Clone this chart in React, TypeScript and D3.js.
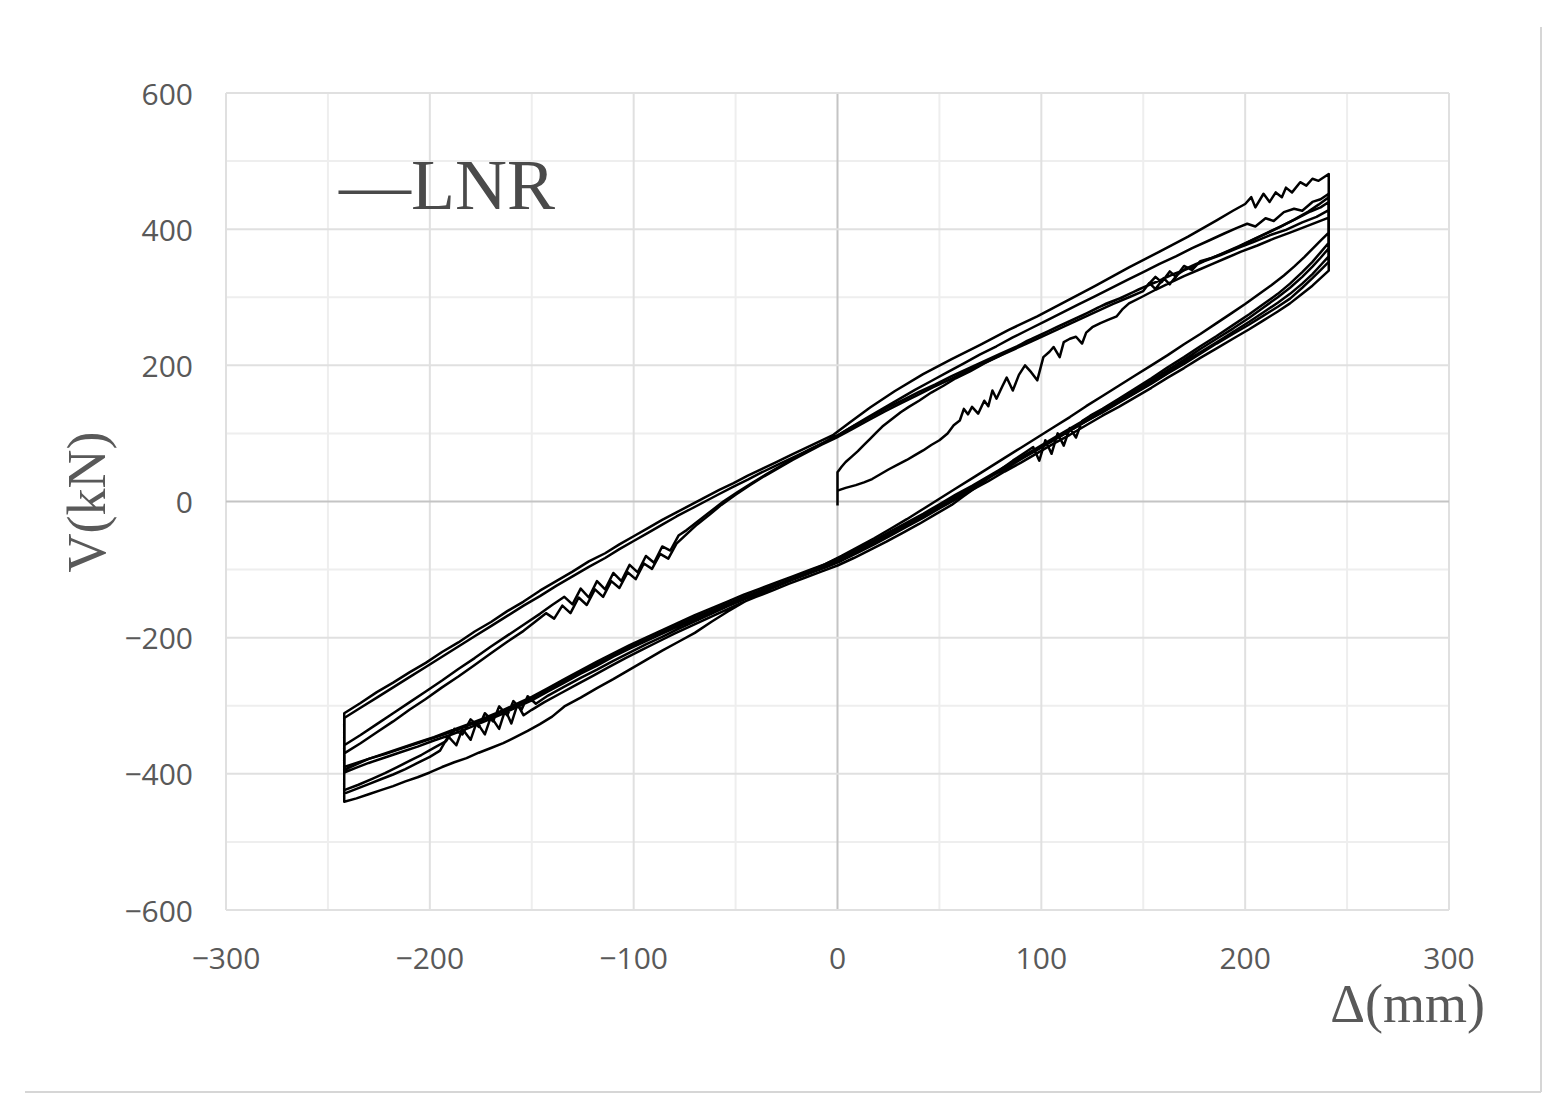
import { useEffect, useRef } from 'react';
import * as d3 from 'd3';

type Pt = [number, number];

const xTicks = [-300, -200, -100, 0, 100, 200, 300];
const yTicks = [-600, -400, -200, 0, 200, 400, 600];
const xMinor = [-250, -150, -50, 50, 150, 250];
const yMinor = [-500, -300, -100, 100, 300, 500];

// loading branches (Δ mm, V kN)
const upA: Pt[] = [[0,-6],[0,43],[2,51],[4,58],[7,66],[10,74],[13,83],[16,92],[19,101],[22,110],[25,117],[28,124],[31,131],[35,139],[40,148],[46,160],[52,170],[58,181],[65,191],[72,203],[79,213],[86,224],[93,236],[100,245],[108,257],[116,268],[124,279],[132,291],[140,300],[148,312],[156,322],[164,333],[172,342],[180,353],[188,362],[196,372],[204,381],[212,391],[220,399],[228,410],[235,418],[241,428]];

const upB: Pt[] = [[0,16],[4,20],[9,24],[13,28],[17,33],[21,40],[25,47],[30,55],[34,61],[38,68],[42,75],[46,83],[50,90],[54,100],[57,112],[60,119],[62,136],[64,128],[66,139],[69,129],[72,148],[74,140],[76,163],[78,151],[81,170],[83,182],[86,163],[89,186],[92,200],[95,190],[98,178],[101,212],[104,220],[106,227],[109,212],[111,234],[114,239],[117,242],[120,232],[122,248],[125,256],[129,262],[133,267],[137,272],[140,283],[143,291],[149,300],[156,311],[163,321],[170,331],[177,340],[184,349],[191,358],[198,367],[206,376],[214,386],[222,395],[229,403],[235,410],[241,417]];

const up1: Pt[] = [[-242,-311],[-234,-296],[-226,-280],[-218,-266],[-210,-251],[-202,-237],[-194,-221],[-186,-207],[-178,-191],[-170,-177],[-162,-161],[-154,-147],[-146,-131],[-138,-117],[-130,-103],[-122,-88],[-114,-76],[-107,-63],[-100,-51],[-93,-39],[-86,-27],[-79,-16],[-72,-5],[-65,6],[-58,17],[-51,27],[-44,38],[-37,48],[-30,58],[-23,68],[-16,78],[-9,88],[-2,98],[6,116],[16,138],[28,162],[42,187],[56,209],[70,230],[84,252],[98,272],[112,294],[126,316],[143,344],[158,367],[172,389],[186,413],[194,427],[200,437],[203,447],[205,432],[209,452],[212,440],[215,454],[218,447],[220,461],[223,454],[227,469],[230,464],[233,474],[236,471],[241,481]];

const up2: Pt[] = [[-242,-318],[-234,-303],[-226,-288],[-218,-273],[-210,-258],[-202,-243],[-194,-228],[-186,-213],[-178,-198],[-170,-183],[-162,-168],[-154,-153],[-146,-139],[-138,-124],[-130,-110],[-122,-96],[-114,-83],[-107,-70],[-100,-58],[-93,-46],[-86,-34],[-79,-22],[-72,-11],[-65,0],[-58,11],[-51,22],[-44,32],[-37,43],[-30,53],[-23,63],[-16,73],[-9,83],[-2,93],[6,108],[14,122],[22,136],[30,150],[38,164],[46,177],[54,190],[62,203],[70,216],[78,228],[86,241],[94,253],[102,265],[110,277],[118,289],[126,301],[134,313],[142,325],[150,337],[158,349],[166,360],[174,372],[182,383],[190,394],[196,402],[201,408],[205,404],[210,416],[214,412],[219,425],[224,430],[228,427],[233,440],[237,444],[241,452]];

const up3: Pt[] = [[-242,-358],[-234,-343],[-226,-327],[-218,-311],[-210,-295],[-202,-279],[-194,-263],[-186,-246],[-178,-230],[-170,-213],[-162,-197],[-154,-181],[-146,-165],[-140,-152],[-134,-140],[-130,-151],[-126,-128],[-122,-141],[-118,-117],[-114,-129],[-110,-105],[-106,-117],[-102,-93],[-98,-104],[-94,-80],[-90,-90],[-86,-66],[-82,-72],[-78,-50],[-74,-42],[-68,-28],[-62,-14],[-56,0],[-49,14],[-42,27],[-35,40],[-28,52],[-21,64],[-14,76],[-7,86],[0,97],[8,111],[16,124],[24,137],[32,149],[40,161],[48,172],[56,184],[64,195],[72,206],[80,217],[88,228],[96,240],[104,251],[112,262],[120,273],[128,285],[136,295],[144,306],[152,317],[156,330],[159,322],[163,338],[166,330],[170,346],[174,340],[178,353],[184,358],[190,366],[197,375],[204,385],[211,395],[218,405],[225,415],[232,426],[237,432],[241,440]];

const up4: Pt[] = [[-242,-370],[-234,-355],[-226,-339],[-218,-323],[-210,-306],[-202,-290],[-194,-273],[-186,-257],[-178,-240],[-170,-223],[-162,-206],[-154,-190],[-148,-176],[-143,-164],[-139,-172],[-135,-153],[-131,-164],[-127,-141],[-123,-152],[-119,-129],[-115,-140],[-111,-117],[-107,-127],[-103,-104],[-99,-114],[-95,-91],[-91,-99],[-87,-77],[-83,-84],[-79,-62],[-74,-48],[-69,-34],[-63,-20],[-57,-5],[-50,10],[-43,24],[-36,37],[-29,49],[-22,61],[-15,72],[-8,83],[-1,93],[7,106],[15,119],[23,132],[31,144],[39,156],[47,168],[55,179],[63,191],[71,202],[79,213],[87,224],[95,235],[103,246],[111,257],[119,268],[127,279],[135,290],[143,300],[150,309],[153,321],[156,312],[160,328],[163,319],[167,334],[171,342],[176,349],[182,356],[189,364],[196,373],[203,383],[210,393],[217,403],[224,414],[231,426],[236,436],[241,447]];

// unloading / reverse branches
const dn1: Pt[] = [[241,352],[237,340],[233,328],[228,314],[222,298],[216,286],[209,273],[202,260],[194,246],[186,232],[178,217],[170,202],[162,188],[154,173],[146,159],[138,145],[130,131],[122,118],[114,104],[106,90],[98,76],[90,63],[82,49],[74,35],[66,21],[58,8],[50,-6],[42,-20],[34,-34],[26,-47],[18,-60],[10,-72],[2,-84],[-6,-95],[-14,-104],[-22,-113],[-30,-122],[-38,-131],[-46,-140],[-54,-150],[-62,-160],[-70,-170],[-78,-181],[-86,-192],[-94,-203],[-102,-214],[-110,-226],[-118,-238],[-126,-251],[-134,-263],[-142,-276],[-150,-289],[-158,-300],[-166,-311],[-174,-321],[-182,-330],[-190,-339],[-198,-347],[-206,-355],[-214,-363],[-222,-371],[-230,-378],[-236,-384],[-242,-390]];

const dn2: Pt[] = [[241,339],[237,328],[233,317],[228,305],[222,291],[216,279],[209,266],[202,253],[194,239],[186,225],[178,211],[170,196],[162,182],[154,167],[146,153],[138,139],[130,126],[122,112],[114,98],[106,85],[98,71],[90,57],[82,44],[74,30],[66,17],[58,3],[50,-10],[42,-24],[34,-37],[26,-50],[18,-63],[10,-75],[2,-87],[-6,-97],[-14,-106],[-22,-115],[-30,-124],[-38,-133],[-46,-142],[-54,-152],[-62,-162],[-70,-172],[-78,-183],[-86,-194],[-94,-205],[-102,-216],[-110,-228],[-118,-241],[-126,-253],[-134,-266],[-142,-279],[-150,-292],[-158,-303],[-166,-314],[-174,-324],[-182,-334],[-190,-343],[-198,-351],[-206,-360],[-214,-368],[-222,-376],[-230,-384],[-236,-391],[-242,-398]];

const dn3: Pt[] = [[241,395],[237,383],[233,371],[229,359],[224,345],[219,332],[213,318],[207,305],[200,290],[193,276],[186,262],[178,246],[170,231],[162,215],[154,200],[146,185],[138,170],[130,155],[122,140],[114,124],[106,109],[98,94],[90,79],[82,64],[74,49],[66,34],[58,19],[50,4],[42,-11],[34,-26],[26,-40],[18,-54],[10,-67],[2,-80],[-6,-92],[-14,-103],[-22,-113],[-30,-124],[-38,-135],[-46,-148],[-54,-162],[-62,-177],[-70,-193],[-78,-206],[-86,-219],[-94,-233],[-102,-247],[-110,-261],[-118,-274],[-126,-288],[-134,-301],[-140,-316],[-146,-327],[-152,-337],[-158,-346],[-164,-355],[-170,-362],[-176,-369],[-182,-377],[-188,-383],[-194,-390],[-200,-398],[-206,-405],[-212,-411],[-218,-418],[-224,-424],[-230,-430],[-236,-436],[-242,-441]];

const dn4: Pt[] = [[241,380],[237,366],[233,352],[228,337],[222,320],[216,305],[209,290],[202,275],[194,259],[186,243],[178,228],[170,212],[162,197],[154,181],[146,166],[138,151],[130,136],[124,126],[120,118],[117,94],[114,108],[111,82],[108,100],[105,70],[102,90],[99,60],[96,80],[92,72],[86,60],[80,47],[74,34],[68,21],[62,8],[56,-5],[48,-19],[40,-33],[32,-46],[24,-59],[16,-71],[8,-83],[0,-94],[-8,-103],[-16,-112],[-24,-121],[-32,-131],[-40,-140],[-48,-150],[-56,-161],[-64,-172],[-72,-183],[-80,-194],[-88,-206],[-96,-218],[-104,-230],[-112,-243],[-120,-256],[-128,-269],[-136,-282],[-144,-295],[-150,-306],[-154,-314],[-157,-298],[-160,-326],[-163,-306],[-166,-334],[-170,-316],[-173,-342],[-177,-324],[-180,-350],[-184,-334],[-187,-358],[-191,-345],[-195,-366],[-200,-375],[-206,-384],[-212,-393],[-218,-401],[-224,-408],[-230,-415],[-236,-422],[-242,-429]];

const dn5: Pt[] = [[241,372],[237,358],[233,345],[228,330],[222,314],[216,300],[209,285],[202,270],[194,254],[186,239],[178,224],[170,208],[162,193],[154,178],[146,163],[138,149],[130,135],[122,121],[114,107],[106,93],[98,79],[90,65],[82,51],[74,37],[66,23],[58,10],[50,-4],[42,-18],[34,-31],[26,-44],[18,-57],[10,-69],[2,-81],[-6,-92],[-14,-101],[-22,-110],[-30,-119],[-38,-128],[-46,-137],[-54,-147],[-62,-157],[-70,-167],[-78,-178],[-86,-189],[-94,-200],[-102,-211],[-110,-223],[-118,-235],[-126,-248],[-134,-261],[-142,-274],[-150,-287],[-158,-298],[-166,-309],[-174,-319],[-182,-328],[-190,-337],[-198,-346],[-206,-354],[-214,-362],[-222,-370],[-230,-378],[-236,-386],[-242,-394]];

const dn6: Pt[] = [[241,360],[237,347],[233,334],[228,320],[222,305],[216,292],[209,278],[202,264],[194,249],[186,234],[178,219],[170,204],[162,189],[154,174],[146,160],[138,146],[130,132],[122,118],[114,104],[106,90],[98,76],[90,62],[82,48],[74,35],[66,21],[58,7],[50,-7],[42,-21],[34,-34],[26,-48],[18,-61],[10,-73],[2,-85],[-6,-96],[-14,-106],[-22,-115],[-30,-125],[-38,-134],[-46,-144],[-54,-154],[-62,-165],[-70,-176],[-78,-187],[-86,-199],[-94,-210],[-102,-222],[-110,-234],[-118,-247],[-126,-259],[-134,-272],[-142,-285],[-148,-297],[-152,-286],[-155,-306],[-159,-293],[-162,-314],[-166,-301],[-169,-323],[-173,-311],[-176,-331],[-180,-320],[-184,-342],[-188,-334],[-192,-352],[-198,-362],[-204,-372],[-210,-381],[-216,-390],[-222,-399],[-228,-407],[-235,-416],[-242,-424]];

const runA: Pt[] = [...upA, ...dn1, ...up1, ...dn3, ...up3, ...dn4];
const runB: Pt[] = [...upB, ...dn2, ...up2, ...dn5, ...up4, ...dn6];
const runs = [runA, runB];

const W = 1557;
const H = 1115;

export default function App() {
  const svgRef = useRef<SVGSVGElement>(null);

  useEffect(() => {
    if (!svgRef.current) return;
    const svg = d3.select(svgRef.current);
    svg.selectAll('*').remove();

    const x = d3.scaleLinear().domain([-300, 300]).range([226, 1449]);
    const y = d3.scaleLinear().domain([-600, 600]).range([910, 93]);
    const fmt = d3.format('d');

    svg.append('rect').attr('width', W).attr('height', H).attr('fill', '#fff');

    // frame shadow (right + bottom)
    svg.append('line').attr('x1', 25).attr('x2', 1541).attr('y1', 1092).attr('y2', 1092)
      .attr('stroke', '#d6d6d6').attr('stroke-width', 2);
    svg.append('line').attr('x1', 1541).attr('x2', 1541).attr('y1', 27).attr('y2', 1092)
      .attr('stroke', '#d6d6d6').attr('stroke-width', 2);

    const grid = svg.append('g');
    // minor grid
    xMinor.forEach(v => {
      grid.append('line').attr('x1', x(v)).attr('x2', x(v)).attr('y1', y(600)).attr('y2', y(-600))
        .attr('stroke', '#eeeeee').attr('stroke-width', 2);
    });
    yMinor.forEach(v => {
      grid.append('line').attr('x1', x(-300)).attr('x2', x(300)).attr('y1', y(v)).attr('y2', y(v))
        .attr('stroke', '#eeeeee').attr('stroke-width', 2);
    });
    // major grid
    xTicks.forEach(v => {
      grid.append('line').attr('x1', x(v)).attr('x2', x(v)).attr('y1', y(600)).attr('y2', y(-600))
        .attr('stroke', v === 0 ? '#c4c4c4' : '#e0e0e0').attr('stroke-width', 2);
    });
    yTicks.forEach(v => {
      grid.append('line').attr('x1', x(-300)).attr('x2', x(300)).attr('y1', y(v)).attr('y2', y(v))
        .attr('stroke', v === 0 ? '#c4c4c4' : '#e0e0e0').attr('stroke-width', 2);
    });

    // tick labels
    svg.append('g').selectAll('text').data(yTicks).join('text')
      .attr('x', 193).attr('y', d => y(d)).attr('text-anchor', 'end')
      .attr('dominant-baseline', 'central')
      .attr('font-family', 'Open Sans, sans-serif').attr('font-size', 30).attr('fill', '#595959')
      .text(d => fmt(d));
    svg.append('g').selectAll('text').data(xTicks).join('text')
      .attr('x', d => x(d)).attr('y', 957).attr('text-anchor', 'middle')
      .attr('dominant-baseline', 'central')
      .attr('font-family', 'Open Sans, sans-serif').attr('font-size', 30).attr('fill', '#595959')
      .text(d => fmt(d));

    // axis titles
    svg.append('text')
      .attr('transform', 'translate(105,502) rotate(-90)')
      .attr('text-anchor', 'middle')
      .attr('font-family', 'Liberation Serif, Times New Roman, serif').attr('font-size', 54)
      .attr('fill', '#595959')
      .text('V(kN)');
    svg.append('text')
      .attr('x', 1485).attr('y', 1022).attr('text-anchor', 'end')
      .attr('font-family', 'Liberation Serif, Times New Roman, serif').attr('font-size', 54)
      .attr('fill', '#595959')
      .text('Δ(mm)');

    // legend
    svg.append('text')
      .attr('x', 339).attr('y', 209)
      .attr('font-family', 'Liberation Serif, Times New Roman, serif').attr('font-size', 72)
      .attr('fill', '#4a4a4a')
      .text('—LNR');

    // hysteresis loops
    const line = d3.line<Pt>().x(d => x(d[0])).y(d => y(d[1]));
    svg.append('g').selectAll('path').data(runs).join('path')
      .attr('d', d => line(d))
      .attr('fill', 'none').attr('stroke', '#000').attr('stroke-width', 2.5)
      .attr('stroke-linejoin', 'round');
  }, []);

  return (
    <svg ref={svgRef} width={W} height={H}
      style={{ position: 'absolute', left: 0, top: 0, background: '#fff' }} />
  );
}
